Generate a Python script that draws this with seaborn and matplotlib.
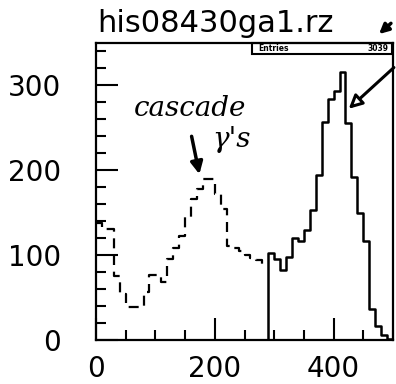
import numpy as np
import pandas as pd
import matplotlib
matplotlib.use("Agg")
import matplotlib.pyplot as plt
from matplotlib.patches import Rectangle
from matplotlib.ticker import MultipleLocator
import seaborn as sns

# ---- data ----
bin_width = 10
dashed_left = list(range(0, 290, 10))
dashed_counts = [138, 131, 131, 75, 54, 39, 39, 39, 57, 77,
                 77, 68, 95, 108, 122, 145, 166, 178, 189, 189,
                 172, 154, 111, 108, 105, 100, 96, 94, 90]
solid_left = list(range(280, 500, 10))
solid_counts = [0, 102, 95, 82, 98, 120, 116, 129, 153, 194, 257,
                284, 293, 316, 255, 192, 149, 116, 37, 16, 6, 1]
title = "his08430ga1.rz"
entries_label = "Entries"
entries_value = "3039"
x_ticks = [0, 200, 400]
y_ticks = [0, 100, 200, 300]

sns.set_theme(style="white")
plt.rcParams["font.family"] = ["DejaVu Sans"]
plt.rcParams["text.color"] = "black"

fig = plt.figure(figsize=(3.96, 3.84), dpi=100)
ax = fig.add_axes([96/396, 44/384, 297/396, 297.3/384])

dashed_df = pd.DataFrame({"x": [v + 5 for v in dashed_left], "w": dashed_counts})
solid_df = pd.DataFrame({"x": [v + 5 for v in solid_left], "w": solid_counts})

sns.histplot(data=dashed_df, x="x", weights="w",
             binwidth=bin_width, binrange=(0, 290), element="step", fill=False,
             color="black", linestyle=(0, (4.5, 3)), linewidth=1.6, ax=ax)
sns.histplot(data=solid_df, x="x", weights="w",
             binwidth=bin_width, binrange=(280, 500), element="step", fill=False,
             color="black", linewidth=1.8, ax=ax)

ax.set_xlim(0, 500)
ax.set_ylim(0, 350)
ax.set_xlabel("")
ax.set_ylabel("")
ax.set_xticks(x_ticks)
ax.set_yticks(y_ticks)
ax.xaxis.set_minor_locator(MultipleLocator(50))
ax.yaxis.set_minor_locator(MultipleLocator(20))
ax.tick_params(axis="both", which="major", direction="in", length=16, width=1.5,
               color="black", labelsize=20, labelcolor="black")
ax.tick_params(axis="both", which="minor", direction="in", length=7, width=1.5,
               color="black")
ax.tick_params(axis="x", which="major", pad=11, bottom=True)
ax.tick_params(axis="x", which="minor", bottom=True)
ax.tick_params(axis="y", which="major", pad=25, left=True)
ax.tick_params(axis="y", which="minor", left=True)
for s in ax.spines.values():
    s.set_color("black")
    s.set_linewidth(1.6)

# stats box
ax.add_patch(Rectangle((0.526, 0.962), 0.47, 0.038, transform=ax.transAxes,
                       fill=False, edgecolor="black", linewidth=1.5, clip_on=False))
ax.text(0.545, 0.981, entries_label, transform=ax.transAxes, fontsize=5.5,
        fontweight="bold", va="center", ha="left", color="black")
ax.text(0.985, 0.981, entries_value, transform=ax.transAxes, fontsize=5.5,
        fontweight="bold", va="center", ha="right", color="black")

# title
fig.text(0.545, 1 - 31.7/384, title, ha="center", va="baseline",
         fontsize=22, color="black")

# handwritten-style annotations
ax.text(158, 272, "cascade", fontsize=20, style="italic",
        family=["DejaVu Serif"], ha="center", va="center", color="black")
ax.text(229, 236, "γ's", fontsize=20, style="italic",
        family=["DejaVu Serif"], ha="center", va="center", color="black")
ax.annotate("", xy=(175, 192), xytext=(160, 243),
            arrowprops=dict(arrowstyle="-|>", color="black", lw=2.5,
                            mutation_scale=18))
ax.annotate("", xy=(422, 270), xytext=(505, 323),
            arrowprops=dict(arrowstyle="-|>", color="black", lw=2.2,
                            mutation_scale=20, fc="white"),
            annotation_clip=False)
ax.annotate("", xy=(473, 358), xytext=(500, 375),
            arrowprops=dict(arrowstyle="-|>", color="black", lw=2.5,
                            mutation_scale=14),
            annotation_clip=False)

fig.savefig("out.png", dpi=100)
